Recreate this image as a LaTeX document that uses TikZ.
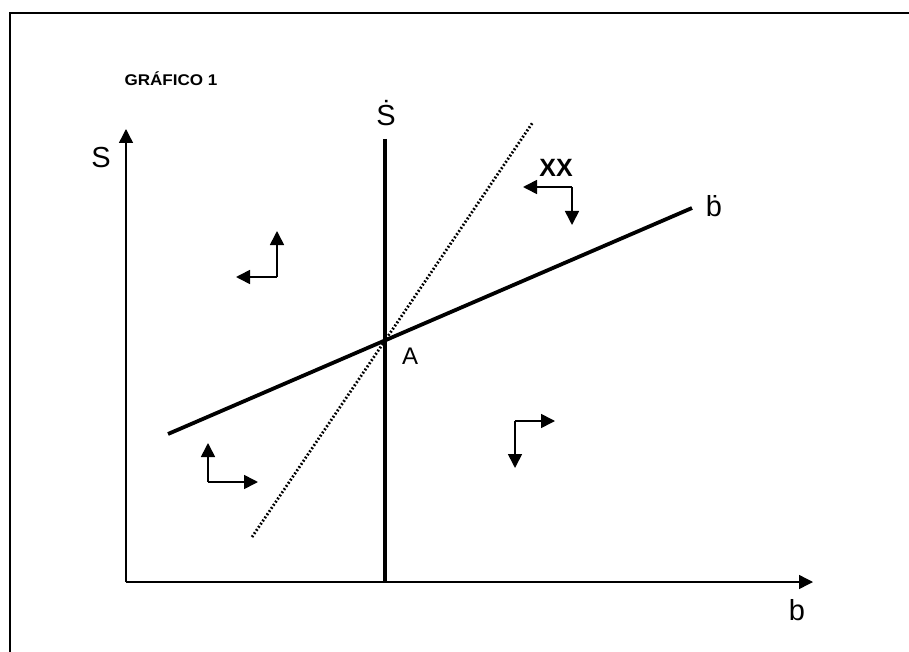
\documentclass[tikz,border=0pt]{standalone}
\usepackage{fontspec}
\setmainfont{Liberation Sans}
\usetikzlibrary{arrows.meta}
\begin{document}
\begin{tikzpicture}[x=1pt,y=-1pt,
  axis/.style={line width=1.4pt,-{Triangle[length=14pt,width=14pt]}},
  thickline/.style={line width=3.8pt},
  dotline/.style={line width=2.8pt, dash pattern=on 1.8pt off 2pt},
  dirarrow/.style={line width=1.6pt,-{Triangle[length=14pt,width=14pt]}},
  lbl/.style={inner sep=0pt, anchor=base, font=\fontsize{29}{30}\selectfont},
  frame/.style={line width=2pt}
]
\useasboundingbox (0,0) rectangle (909,652);
% frame
\coordinate (FL) at (10,652);
\coordinate (FC) at (10,13);
\coordinate (FR) at (909,13);
\draw[frame] (FL) -- (FC) -- (FR);
% title
\node[inner sep=0pt, anchor=base, font=\fontsize{15.5}{16}\selectfont\bfseries] (title) at (171,86) {\scalebox{1.1}[1]{GRÁFICO 1}};
% axes
\coordinate (O) at (126,582);
\coordinate (Ytip) at (126,129);
\coordinate (Xtip) at (813,582);
\draw[axis] (O) -- (Ytip);
\draw[axis] (O) -- (Xtip);
\node[lbl] (Slab) at (101,168) {S};
\node[lbl] (blab) at (797,620) {b};
% S-dot line
\coordinate (Stop) at (385,139);
\coordinate (Sbot) at (385,582);
\draw[thickline] (Stop) -- (Sbot);
\node[lbl] (Sdot) at (386,126) {Ṡ};
% b-dot line
\coordinate (Bleft) at (168,434);
\coordinate (Bright) at (692,208);
\draw[thickline] (Bleft) -- (Bright);
\node[lbl] (bdot) at (714,217) {ḃ};
% dotted line
\coordinate (Dbot) at (252,537);
\coordinate (Dtop) at (533,122);
\draw[dotline] (Dbot) -- (Dtop);
% point A
\coordinate (A) at (387,339);
\node[inner sep=0pt, anchor=base, font=\fontsize{24}{25}\selectfont] (Alab) at (410,364) {A};
% XX
\node[inner sep=0pt, anchor=base, font=\fontsize{25}{26}\selectfont\bfseries] (XX) at (556,177) {XX};
% direction arrows
\coordinate (c1) at (572,187);
\coordinate (c1a) at (523,187);
\coordinate (c1b) at (572,225);
\draw[dirarrow] (c1) -- (c1a);
\draw[dirarrow] (c1) -- (c1b);
\coordinate (c2) at (277,277);
\coordinate (c2a) at (277,231);
\coordinate (c2b) at (236,277);
\draw[dirarrow] (c2) -- (c2a);
\draw[dirarrow] (c2) -- (c2b);
\coordinate (c3) at (208,482);
\coordinate (c3a) at (208,443);
\coordinate (c3b) at (258,482);
\draw[dirarrow] (c3) -- (c3a);
\draw[dirarrow] (c3) -- (c3b);
\coordinate (c4) at (515,421);
\coordinate (c4a) at (555,421);
\coordinate (c4b) at (515,468);
\draw[dirarrow] (c4) -- (c4a);
\draw[dirarrow] (c4) -- (c4b);
\end{tikzpicture}
\end{document}
